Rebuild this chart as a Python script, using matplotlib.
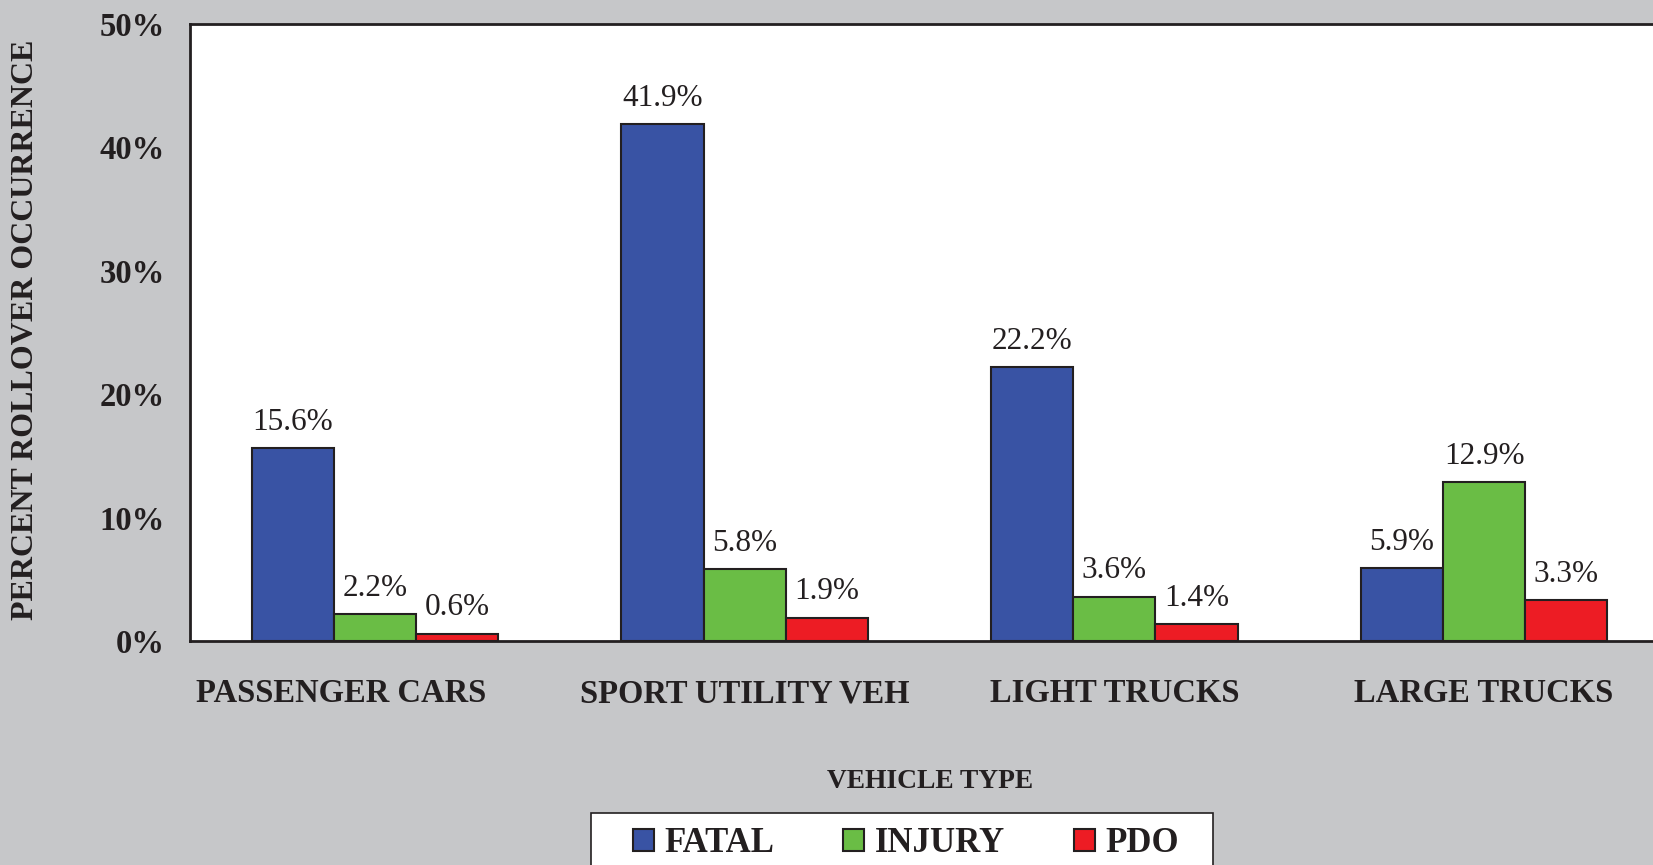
import matplotlib.pyplot as plt
import matplotlib.transforms as mtransforms
from matplotlib.patches import Rectangle
import numpy as np

# Rollover occurrence by vehicle type and crash severity
categories = ["PASSENGER CARS", "SPORT UTILITY VEH", "LIGHT TRUCKS", "LARGE TRUCKS"]
fatal = [15.6, 41.9, 22.2, 5.9]
injury = [2.2, 5.8, 3.6, 12.9]
pdo = [0.6, 1.9, 1.4, 3.3]
series_names = ["FATAL", "INJURY", "PDO"]
y_ticks = [0, 10, 20, 30, 40, 50]

colours = ["#3953A4", "#6ABD45", "#ED1C24"]
edge = "#231F20"
bg = "#C6C7C9"

plt.rcParams['font.family'] = ['Liberation Serif', 'DejaVu Serif']

fig = plt.figure(figsize=(16.53, 8.65), dpi=100, facecolor=bg)
# axes runs past the right edge of the figure, like the original
ax = fig.add_axes([190/1653, 1 - 641/865, 1479/1653, 617/865])
ax.set_facecolor("white")

x = np.arange(len(categories))
width = 0.222
handles = []
for i, (vals, name) in enumerate(zip([fatal, injury, pdo], series_names)):
    bars = ax.bar(x + (i - 1) * width, vals, width, color=colours[i],
                  edgecolor=edge, linewidth=1.5, label=name)
    ax.bar_label(bars, labels=[f"{v:.1f}%" for v in vals], padding=8,
                 fontsize=22.5, color=edge)
    handles.append(bars)

ax.set_xlim(-0.5, 3.5)
ax.set_ylim(0, 50)
ax.set_yticks(y_ticks)
ax.set_yticklabels([f"{t}%" for t in y_ticks], fontsize=23.5, fontweight='bold', color=edge)
ax.set_xticks(x)
ax.set_xticklabels(categories, fontsize=23.5, fontweight='bold', color=edge)
ax.tick_params(axis='y', length=0, pad=18)
ax.tick_params(axis='x', length=0, pad=27)

# first category label sits a bit left of its group in the original
lbl = ax.get_xticklabels()[0]
lbl.set_transform(lbl.get_transform() +
                  mtransforms.ScaledTranslation(-34/100, 0, fig.dpi_scale_trans))

for side in ['left', 'bottom', 'top']:
    ax.spines[side].set_linewidth(2)
    ax.spines[side].set_color(edge)
ax.spines['right'].set_visible(False)

fig.text(26/1653, 1 - 330/865, "PERCENT ROLLOVER OCCURRENCE", rotation=90,
         ha='center', va='center', fontsize=23, fontweight='bold', color=edge)
fig.text(930/1653, 1 - 781/865, "VEHICLE TYPE", ha='center', va='center',
         fontsize=19.8, fontweight='bold', color=edge)

# legend box, running off the bottom of the figure
fig.patches.append(Rectangle((591/1653, -0.05), 622/1653, 0.05 + 1 - 813/865,
                             transform=fig.transFigure, facecolor='white',
                             edgecolor=edge, linewidth=1.2, zorder=0))
leg = fig.legend(handles=handles, labels=series_names, loc='center left',
                 bbox_to_anchor=(633/1653, 1 - 844/865, 546/1653, 0),
                 mode='expand', ncol=3, frameon=False, handlelength=0.6,
                 handleheight=0.6, handletextpad=0.3, borderpad=0,
                 borderaxespad=0, prop={'size': 25, 'weight': 'bold'})
for t in leg.get_texts():
    t.set_color(edge)

fig.savefig("out.png", dpi=100, facecolor=bg)
